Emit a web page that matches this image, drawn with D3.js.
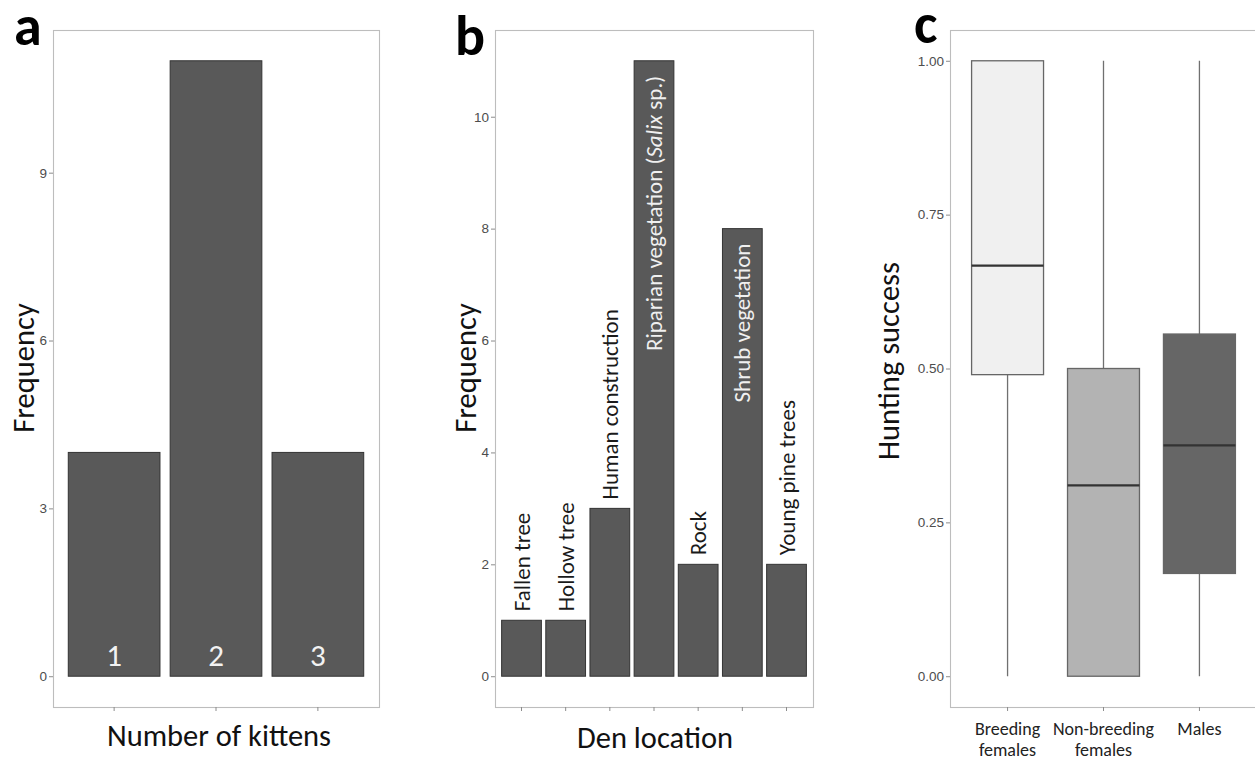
<!DOCTYPE html>
<html>
<head>
<meta charset="utf-8">
<script src="https://cdn.jsdelivr.net/npm/d3@7"></script>
<style>
  html, body { margin: 0; padding: 0; background: #ffffff; }
  svg { display: block; }
</style>
</head>
<body>
<svg id="chart" width="1255" height="758"></svg>
<script>
// ---------------- DATA ----------------
const kittenCategories = ["1", "2", "3"];
const kittenFrequency = [4, 11, 4];
const kittenTicks = [0, 3, 6, 9];

const denCategories = ["Fallen tree", "Hollow tree", "Human construction",
  "Riparian vegetation (Salix sp.)", "Rock", "Shrub vegetation", "Young pine trees"];
const denFrequency = [1, 1, 3, 11, 2, 8, 2];
const denTicks = [0, 2, 4, 6, 8, 10];

const groupCategories = ["Breeding females", "Non-breeding females", "Males"];
const groupTickLines = [["Breeding", "females"], ["Non-breeding", "females"], ["Males"]];
const whiskerLow = [0, 0, 0];
const quartile1 = [0.49, 0, 0.167];
const medianValue = [0.667, 0.31, 0.375];
const quartile3 = [1.0, 0.5, 0.556];
const whiskerHigh = [1.0, 1.0, 1.0];
const huntingTicks = [0, 0.25, 0.5, 0.75, 1.0];

// ---------------- STYLE ----------------
const titleFont = "Carlito, Lato, 'Open Sans', sans-serif";
const tickFont = "'Liberation Sans', Arial, sans-serif";
const frameColor = "#bdbdbd";
const tickColor = "#4d4d4d";
const barFill = "#595959";
const barStroke = "#333333";
const boxFills = ["#f0f0f0", "#b3b3b3", "#666666"];

const svg = d3.select("#chart");

function panelFrame(g, x0, x1, y0, y1) {
  g.append("rect").attr("x", x0 + 0.5).attr("y", y0 + 0.5)
    .attr("width", x1 - x0).attr("height", y1 - y0)
    .attr("fill", "none").attr("stroke", frameColor).attr("stroke-width", 1.1);
}

function yAxis(g, scale, x0, ticks, fmt) {
  const ax = d3.axisLeft(scale).tickValues(ticks).tickSize(4).tickPadding(2).tickFormat(fmt);
  const a = g.append("g").attr("transform", `translate(${x0},0)`).call(ax);
  a.select(".domain").remove();
  a.selectAll(".tick line").attr("stroke", "#8c8c8c");
  a.selectAll(".tick text").attr("fill", tickColor)
    .style("font-family", tickFont).style("font-size", "13.5px");
}

function xAxisTicks(g, scale, y1) {
  const ax = d3.axisBottom(scale).tickSize(4).tickFormat("");
  const a = g.append("g").attr("transform", `translate(0,${y1})`).call(ax);
  a.select(".domain").remove();
  a.selectAll(".tick line").attr("stroke", "#8c8c8c");
}

function panelLetter(letter, x, y) {
  svg.append("text").attr("x", x).attr("y", y).text(letter)
    .style("font-family", titleFont).style("font-weight", "900")
    .style("font-size", "56px").attr("fill", "#000");
}

function yTitle(text, x, cy) {
  svg.append("text").attr("transform", `translate(${x},${cy}) rotate(-90)`)
    .attr("text-anchor", "middle").text(text)
    .style("font-family", titleFont).style("font-size", "30.5px").attr("fill", "#111");
}

function xTitle(text, cx, y) {
  svg.append("text").attr("x", cx).attr("y", y).attr("text-anchor", "middle").text(text)
    .style("font-family", titleFont).style("font-size", "30.5px").attr("fill", "#111");
}

const yTop = 30, yBottom = 707;

// ---------------- PANEL A ----------------
{
  const x0 = 53, x1 = 379;
  const g = svg.append("g");
  const x = d3.scaleBand().domain(kittenCategories).range([x0, x1]).paddingInner(0.1).paddingOuter(0.15);
  const y = d3.scaleLinear().domain([-0.55, 11.55]).range([yBottom, yTop]);
  panelFrame(g, x0, x1, yTop, yBottom);
  g.selectAll("rect.bar").data(kittenCategories).enter().append("rect").attr("class", "bar")
    .attr("x", d => x(d)).attr("width", x.bandwidth())
    .attr("y", (d, i) => y(kittenFrequency[i]))
    .attr("height", (d, i) => y(0) - y(kittenFrequency[i]))
    .attr("fill", barFill).attr("stroke", barStroke).attr("stroke-width", 1);
  g.selectAll("text.lab").data(kittenCategories).enter().append("text").attr("class", "lab")
    .attr("x", d => x(d) + x.bandwidth() / 2).attr("y", y(0) - 10)
    .attr("text-anchor", "middle").text(d => d)
    .style("font-family", titleFont).style("font-size", "31px").attr("fill", "#f2f2f2");
  yAxis(g, y, x0, kittenTicks, d3.format("d"));
  xAxisTicks(g, x, yBottom);
  panelLetter("a", 14, 45);
  yTitle("Frequency", 34, 368);
  xTitle("Number of kittens", 219, 746);
}

// ---------------- PANEL B ----------------
{
  const x0 = 495, x1 = 813;
  const g = svg.append("g");
  const x = d3.scaleBand().domain(denCategories).range([x0, x1]).paddingInner(0.1).paddingOuter(0.15);
  const y = d3.scaleLinear().domain([-0.55, 11.55]).range([yBottom, yTop]);
  panelFrame(g, x0, x1, yTop, yBottom);
  g.selectAll("rect.bar").data(denCategories).enter().append("rect").attr("class", "bar")
    .attr("x", d => x(d)).attr("width", x.bandwidth())
    .attr("y", (d, i) => y(denFrequency[i]))
    .attr("height", (d, i) => y(0) - y(denFrequency[i]))
    .attr("fill", barFill).attr("stroke", barStroke).attr("stroke-width", 1);
  denCategories.forEach((d, i) => {
    const inside = denFrequency[i] > 5;
    const cx = x(d) + x.bandwidth() / 2;
    const yy = inside ? y(denFrequency[i]) + 15 : y(denFrequency[i]) - 9;
    const t = g.append("text")
      .attr("transform", `translate(${cx},${yy}) rotate(-90)`)
      .attr("text-anchor", inside ? "end" : "start").attr("dy", "0.35em")
      .style("font-family", titleFont).style("font-size", "23px")
      .attr("fill", inside ? "#f0f0f0" : "#1a1a1a");
    const m = d.match(/^(.*\()(Salix)(.*)$/);
    if (m) {
      t.append("tspan").text(m[1]);
      t.append("tspan").style("font-style", "italic").text(m[2]);
      t.append("tspan").text(m[3]);
    } else {
      t.text(d);
    }
  });
  yAxis(g, y, x0, denTicks, d3.format("d"));
  xAxisTicks(g, x, yBottom);
  panelLetter("b", 455, 55);
  yTitle("Frequency", 476, 368);
  xTitle("Den location", 655, 748);
}

// ---------------- PANEL C ----------------
{
  const x0 = 950, x1 = 1257;
  const g = svg.append("g");
  const x = d3.scaleBand().domain(groupCategories).range([x0, x1]).paddingInner(0.25).paddingOuter(0.225);
  const y = d3.scaleLinear().domain([-0.05, 1.05]).range([yBottom, yTop]);
  panelFrame(g, x0, x1, yTop, yBottom);
  groupCategories.forEach((d, i) => {
    const cx = x(d) + x.bandwidth() / 2;
    g.append("line").attr("x1", cx).attr("x2", cx)
      .attr("y1", y(whiskerLow[i])).attr("y2", y(quartile1[i]))
      .attr("stroke", "#707070").attr("stroke-width", 1.3);
    g.append("line").attr("x1", cx).attr("x2", cx)
      .attr("y1", y(quartile3[i])).attr("y2", y(whiskerHigh[i]))
      .attr("stroke", "#707070").attr("stroke-width", 1.3);
    g.append("rect").attr("x", x(d)).attr("width", x.bandwidth())
      .attr("y", y(quartile3[i])).attr("height", y(quartile1[i]) - y(quartile3[i]))
      .attr("fill", boxFills[i]).attr("stroke", "#666666").attr("stroke-width", 1.3);
    g.append("line").attr("x1", x(d)).attr("x2", x(d) + x.bandwidth())
      .attr("y1", y(medianValue[i])).attr("y2", y(medianValue[i]))
      .attr("stroke", "#333333").attr("stroke-width", 2.2);
  });
  yAxis(g, y, x0, huntingTicks, d3.format(".2f"));
  xAxisTicks(g, x, yBottom);
  groupCategories.forEach((d, i) => {
    const t = g.append("text").attr("x", x(d) + x.bandwidth() / 2).attr("y", 735)
      .attr("text-anchor", "middle")
      .style("font-family", titleFont).style("font-size", "18px").attr("fill", "#222");
    groupTickLines[i].forEach((line, j) => {
      t.append("tspan").attr("x", x(d) + x.bandwidth() / 2).attr("dy", j === 0 ? 0 : 21).text(line);
    });
  });
  panelLetter("c", 914, 43);
  yTitle("Hunting success", 899, 361);
}
</script>
</body>
</html>
